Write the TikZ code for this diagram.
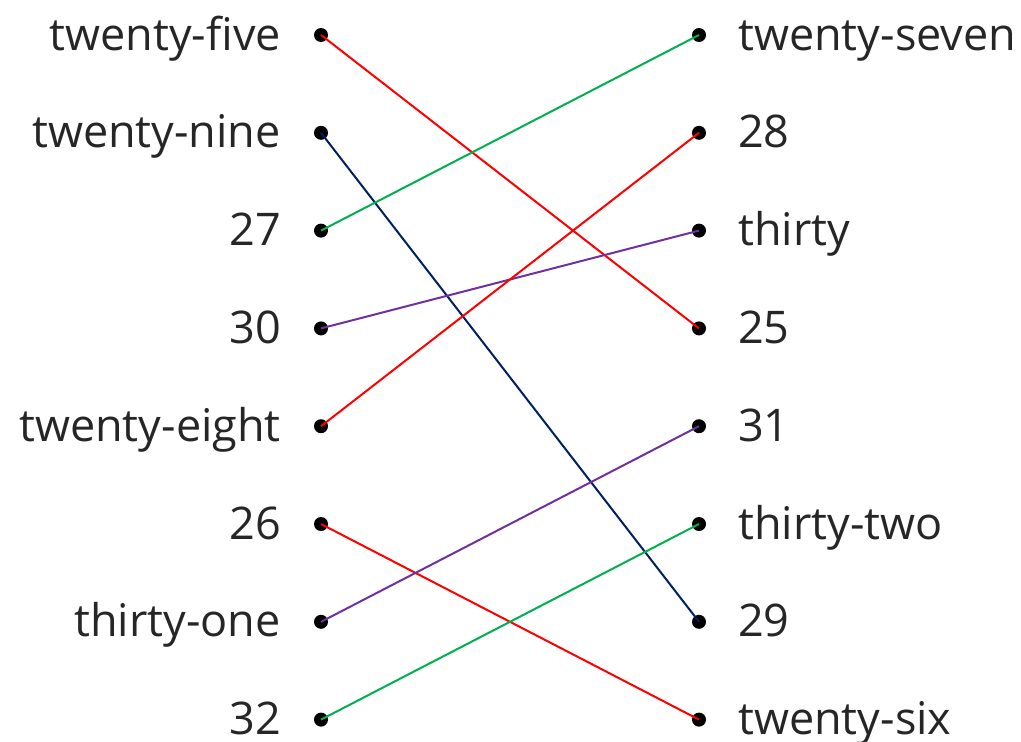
\documentclass[tikz,border=0pt]{standalone}
\usepackage{fontspec}
\setmainfont{Open Sans}
\definecolor{cred}{HTML}{FF0000}
\definecolor{cgreen}{HTML}{00B050}
\definecolor{cnavy}{HTML}{002060}
\definecolor{cpurple}{HTML}{7030A0}
\tikzset{
  lbl/.style={inner sep=0pt, font=\fontsize{45}{52}\selectfont, text=black!85},
  llbl/.style={lbl, anchor=base east},
  rlbl/.style={lbl, anchor=base west},
  dotc/.style={circle, fill=black, inner sep=0pt, minimum size=14pt},
  link/.style={line width=2pt}
}
\begin{document}
\begin{tikzpicture}[x=1pt,y=-1pt]
\useasboundingbox (0,0) rectangle (1021,742);
\foreach \i/\t in {1/twenty-five,2/twenty-nine,3/27,4/30,5/twenty-eight,6/26,7/thirty-one,8/32}{
  \node[dotc] (L\i) at (321,{35+97.8*(\i-1)}) {};
  \node[llbl] (LT\i) at (281,{50+97.8*(\i-1)}) {\t};
}
\foreach \i/\t in {1/twenty-seven,2/28,3/thirty,4/25,5/31,6/thirty-two,7/29,8/twenty-six}{
  \node[dotc] (R\i) at (699,{35+97.8*(\i-1)}) {};
  \node[rlbl] (RT\i) at (738,{50+97.8*(\i-1)}) {\t};
}
\draw[link,cred] (L1.center) -- (R4.center);
\draw[link,cnavy] (L2.center) -- (R7.center);
\draw[link,cgreen] (L3.center) -- (R1.center);
\draw[link,cpurple] (L4.center) -- (R3.center);
\draw[link,cred] (L5.center) -- (R2.center);
\draw[link,cred] (L6.center) -- (R8.center);
\draw[link,cpurple] (L7.center) -- (R5.center);
\draw[link,cgreen] (L8.center) -- (R6.center);
\end{tikzpicture}
\end{document}
